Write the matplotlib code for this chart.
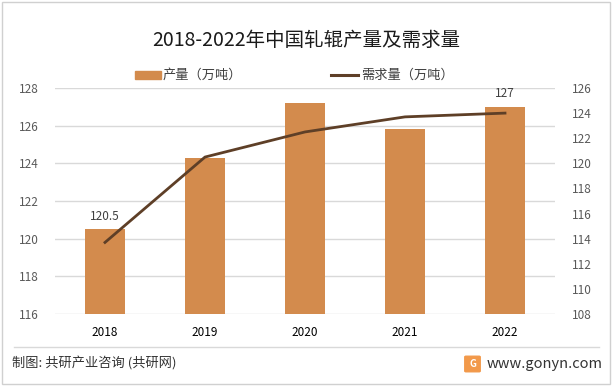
import numpy as np
import matplotlib
matplotlib.use('Agg')
import matplotlib.pyplot as plt
from matplotlib.patches import Rectangle, FancyBboxPatch
from matplotlib.lines import Line2D

plt.rcParams['font.family'] = ['Noto Sans CJK SC', 'DejaVu Sans']

years = ['2018', '2019', '2020', '2021', '2022']
output = [120.5, 124.3, 127.2, 125.8, 127.0]    # 产量（万吨）
demand = [113.7, 120.5, 122.5, 123.7, 124.0]    # 需求量（万吨）
bar_labels = {0: '120.5', 4: '127'}

left_ticks = np.arange(116, 129, 2)
right_ticks = np.arange(108, 127, 2)

bar_color = '#D38B4D'
line_color = '#5E3F27'
tick_color = '#595959'

fig = plt.figure(figsize=(6.12, 3.86), dpi=100)

# outer frame
fig.patches.append(Rectangle((0.004, 0.006), 0.992, 0.988, transform=fig.transFigure,
                             fill=False, edgecolor='#D0D0D0', linewidth=1))

ax = fig.add_axes([55 / 612, 1 - 314 / 386, 500 / 612, 226 / 386])
x = np.arange(len(years))
ax.bar(x, output, width=0.4, color=bar_color, zorder=2)
ax.set_xlim(-0.5, 4.5)
ax.set_ylim(116, 128)
ax.set_yticks(left_ticks)
ax.set_xticks(x)
ax.set_xticklabels(years)
ax.grid(axis='y', color='#D9D9D9', linewidth=1, zorder=0)
for s in ax.spines.values():
    s.set_visible(False)
ax.tick_params(axis='both', length=0, labelsize=8.5)
ax.tick_params(axis='y', colors=tick_color, pad=12)
ax.tick_params(axis='x', colors='#000000', pad=9)

for i, t in bar_labels.items():
    ax.text(i, output[i] + 0.35, t, ha='center', va='bottom', fontsize=8.5, color='#404040')

ax2 = ax.twinx()
ax2.plot(x, demand, color=line_color, linewidth=2.0, zorder=3)
ax2.set_ylim(108, 126)
ax2.set_yticks(right_ticks)
for s in ax2.spines.values():
    s.set_visible(False)
ax2.tick_params(axis='y', length=0, labelsize=8.5, colors=tick_color, pad=12)

# title
fig.text(0.5, 1 - 40 / 386, '2018-2022年中国轧辊产量及需求量', ha='center', va='center',
         fontsize=14, color='#1a1a1a')

# legend
ly = 1 - 75 / 386
fig.patches.append(Rectangle((135 / 612, ly - 4 / 386), 26 / 612, 8 / 386,
                             transform=fig.transFigure, color=bar_color))
fig.text(163 / 612, ly, '产量（万吨）', ha='left', va='center', fontsize=9.5, color='#404040')
fig.lines.append(Line2D([331 / 612, 358 / 612], [ly, ly], transform=fig.transFigure,
                        color=line_color, linewidth=2.2))
fig.text(361 / 612, ly, '需求量（万吨）', ha='left', va='center', fontsize=9.5, color='#404040')

# footer
fig.lines.append(Line2D([14 / 612, 599 / 612], [1 - 347 / 386, 1 - 347 / 386],
                        transform=fig.transFigure, color='#D9D9D9', linewidth=1))
fig.text(12 / 612, 1 - 364 / 386, '制图: 共研产业咨询 (共研网)', ha='left', va='center',
         fontsize=9.5, color='#333333')
fig.patches.append(FancyBboxPatch((466 / 612, 1 - 371 / 386), 13 / 612, 14 / 386,
                                  boxstyle='round,pad=0.002', transform=fig.transFigure,
                                  color='#F2994A'))
fig.text(472.5 / 612, 1 - 364 / 386, 'G', ha='center', va='center', fontsize=7,
         color='white', fontweight='bold')
fig.text(487 / 612, 1 - 364 / 386, 'www.gonyn.com', ha='left', va='center',
         fontsize=10.5, color='#333333')

fig.savefig('out.png', dpi=100)
